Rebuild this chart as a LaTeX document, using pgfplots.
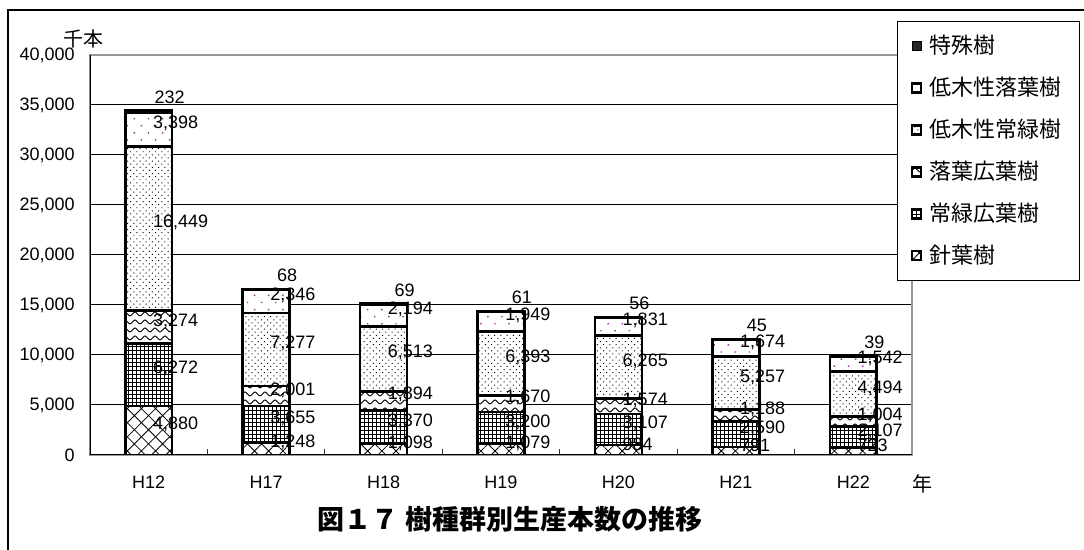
\documentclass[border=0pt]{standalone}
\usepackage{fontspec}
\setmainfont{Liberation Sans}
\newfontfamily\cjk{Noto Sans CJK JP}
\usepackage{pgfplots}
\pgfplotsset{compat=1.18}
\usepackage{pgfplotstable}
\usetikzlibrary{patterns,patterns.meta}
\definecolor{dotpurple}{HTML}{993399}

\pgfdeclarepatternformonly{waves}{\pgfqpoint{-0.5pt}{-0.5pt}}{\pgfqpoint{5.5pt}{4.5pt}}{\pgfqpoint{5pt}{4pt}}{%
  \pgfsetlinewidth{0.45pt}%
  \pgfpathmoveto{\pgfqpoint{0pt}{1pt}}%
  \pgfpathcurveto{\pgfqpoint{0.8pt}{1pt}}{\pgfqpoint{1.7pt}{3pt}}{\pgfqpoint{2.5pt}{3pt}}%
  \pgfpathcurveto{\pgfqpoint{3.3pt}{3pt}}{\pgfqpoint{4.2pt}{1pt}}{\pgfqpoint{5pt}{1pt}}%
  \pgfusepath{stroke}%
}

\pgfplotstableread{
x a b c d e f
0 4880 6272 3274 16449 3398 232
1 1248 3655 2001 7277 2346 68
2 1098 3370 1894 6513 2194 69
3 1079 3200 1670 6393 1949 61
4 984 3107 1574 6265 1831 56
5 791 2590 1188 5257 1674 45
6 723 2107 1004 4494 1542 39
}\datatable

\pgfplotsset{
  leg/.style={legend image code/.code={\draw[##1, line width=0.5pt] (0pt,-2.25pt) rectangle (4.5pt,2.25pt);}},
  topnode/.style={every node near coord/.style={font=\fontsize{9}{10}\selectfont, text=black, anchor=center, inner sep=0pt, xshift=10.5pt, yshift=7pt}},
}

\begin{document}
\begin{tikzpicture}
\useasboundingbox (0,0) rectangle (542pt,275pt);
\draw[line width=0.6pt] (4pt,-2pt) -- (4pt,270pt) -- (546pt,270pt);
\begin{axis}[
  at={(45pt,47.5pt)}, anchor=south west,
  scale only axis, width=411pt, height=200pt,
  xmin=-0.5, xmax=6.5, ymin=0, ymax=40000,
  ybar stacked, bar width=0.4,
  xtick={0,...,6}, xticklabels={H12,H17,H18,H19,H20,H21,H22},
  ytick={0,5000,...,40000},
  scaled y ticks=false,
  /pgf/number format/1000 sep={,},
  /pgf/number format/assume math mode=true,
  tick label style={font=\fontsize{9}{10}\selectfont},
  yticklabel style={anchor=east, inner sep=0pt, xshift=-7.5pt},
  xticklabel style={anchor=north, inner sep=0pt, yshift=-10.25pt},
  xtick style={draw=none}, ytick style={draw=none},
  xtick pos=left,
  extra x ticks={0.5,1.5,2.5,3.5,4.5,5.5},
  extra x tick labels={},
  extra x tick style={xtick style={draw=black!80, line width=0.5pt}, major tick length=3pt, tick align=inside},
  ymajorgrids, grid style={black, line width=0.5pt},
  axis line style={draw=gray!80, line width=0.6pt},
  nodes near coords,
  point meta=explicit,
  every node near coord/.style={font=\fontsize{9}{10}\selectfont, text=black, anchor=west, inner sep=0pt, xshift=1.5pt, yshift=3pt},
  reverse legend,
  legend style={at={(0.9818,1.085)}, anchor=north west, draw=black, line width=0.5pt, fill=white,
    font=\cjk\fontsize{11}{12}\selectfont, inner xsep=7pt, inner ysep=5pt, row sep=6.2pt, column sep=2pt,
    nodes={inner sep=2pt}},
  legend cell align=left,
]
\addplot[leg, draw=black, line width=1.3pt, preaction={fill=white}, pattern={Hatch[angle=45,distance=5pt,line width=0.4pt]}] table[x=x,y=a,meta=a] {\datatable};
\addplot[leg, draw=black, line width=1.3pt, preaction={fill=white}, pattern={Hatch[angle=0,distance=2pt,line width=0.45pt]}] table[x=x,y=b,meta=b] {\datatable};
\addplot[leg, draw=black, line width=1.3pt, preaction={fill=white}, pattern=waves] table[x=x,y=c,meta=c] {\datatable};
\addplot[leg, draw=black, line width=1.3pt, preaction={fill=white}, pattern={Dots[angle=45,distance=2.2pt,radius=0.35pt]}] table[x=x,y=d,meta=d] {\datatable};
\addplot[leg, draw=black, line width=1.3pt, preaction={fill=white}, pattern={Dots[angle=45,distance=5pt,radius=0.5pt]}, pattern color=dotpurple] table[x=x,y=e,meta=e] {\datatable};
\addplot[leg, draw=black, line width=1.3pt, fill=black!85, topnode] table[x=x,y=f,meta=f] {\datatable};
\legend{針葉樹,常緑広葉樹,落葉広葉樹,低木性常緑樹,低木性落葉樹,特殊樹}
\draw[black, line width=0.6pt] (rel axis cs:0,1) -- (rel axis cs:0,0) -- (rel axis cs:1,0);
\end{axis}
\node[font=\cjk\fontsize{10}{12}\selectfont] at (41.5pt,255.5pt) {千本};
\node[font=\cjk\fontsize{10}{12}\selectfont] at (461pt,33pt) {年};
\node[font=\cjk\bfseries\fontsize{13.5}{15}\selectfont] at (255pt,15.5pt) {図１７ 樹種群別生産本数の推移};
\end{tikzpicture}
\end{document}
